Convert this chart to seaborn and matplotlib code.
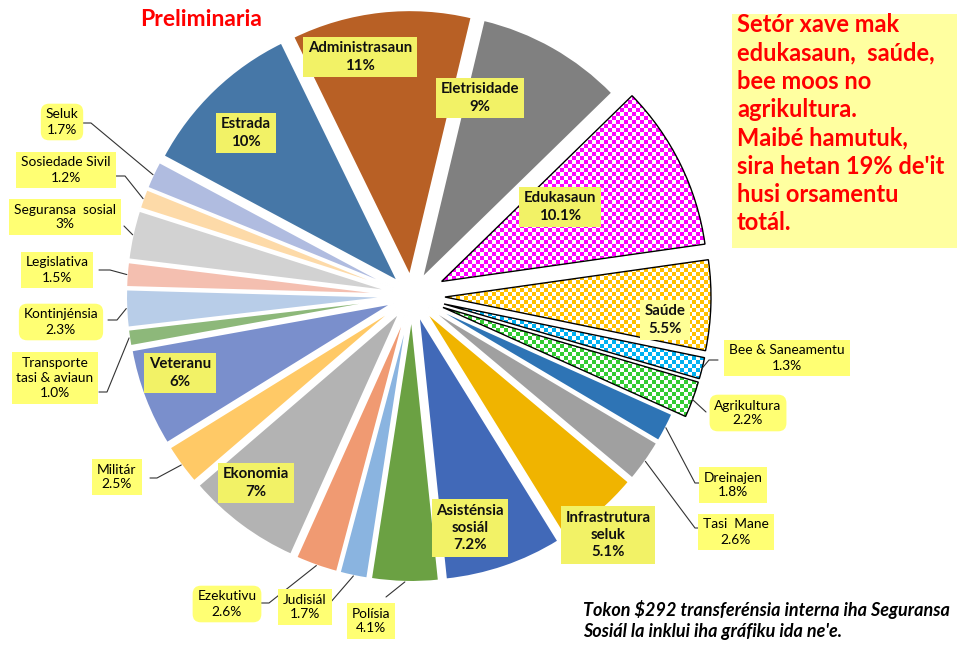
import numpy as np
import matplotlib
matplotlib.use("Agg")
import matplotlib.pyplot as plt
from matplotlib.colors import to_rgb
from matplotlib.patches import Wedge, Rectangle
import seaborn as sns

W, H = 970, 652

# ---- data -------------------------------------------------------------------
sectors = ["Administrasaun", "Eletrisidade", "Edukasaun", "Saúde", "Bee & Saneamentu",
           "Agrikultura", "Dreinajen", "Tasi  Mane", "Infrastrutura\nseluk",
           "Asisténsia\nsosiál", "Polísia", "Judisiál", "Ezekutivu", "Ekonomia",
           "Militár", "Veteranu", "Transporte\ntasi & aviaun", "Kontinjénsia",
           "Legislativa", "Seguransa  sosial", "Sosiedade Sivil", "Seluk", "Estrada"]
shares = [11, 9, 10.1, 5.5, 1.3, 2.2, 1.8, 2.6, 5.1, 7.2, 4.1, 1.7, 2.6, 7,
          2.5, 6, 1.0, 2.3, 1.5, 3, 1.2, 1.7, 10]
share_text = ["11%", "9%", "10.1%", "5.5%", "1.3%", "2.2%", "1.8%", "2.6%", "5.1%",
              "7.2%", "4.1%", "1.7%", "2.6%", "7%", "2.5%", "6%", "1.0%", "2.3%",
              "1.5%", "3%", "1.2%", "1.7%", "10%"]
key_sectors = ["Edukasaun", "Saúde", "Bee & Saneamentu", "Agrikultura"]

colors = ["#B86025", "#808080", "#FF00FF", "#FFC000", "#00B0F0", "#33CC33",
          "#2E74B5", "#A0A0A0", "#F0B400", "#4169B8", "#6BA143", "#8AB4E0",
          "#F09A72", "#B3B3B3", "#FFC966", "#7A8FCC", "#8DB87A", "#B8CDE8",
          "#F4BFB0", "#D2D2D2", "#FDDAA8", "#B0BCE0", "#4677A7"]

# ---- layout (pixel coords, y down) -------------------------------------------
CX, CY, R = 412, 296, 266
inside = {"Administrasaun": (360, 57), "Eletrisidade": (480, 98), "Edukasaun": (560, 207),
          "Saúde": (665, 320), "Infrastrutura\nseluk": (608, 535),
          "Asisténsia\nsosiál": (470, 528), "Ekonomia": (256, 483),
          "Veteranu": (180, 373), "Estrada": (246, 133)}
# name: box centre x, y, leader attach x, y, elbow x, rounded box
outside = {
    "Bee & Saneamentu": (787, 358, 718, 360, 709, False),
    "Agrikultura": (748, 413, 706, 412, None, True),
    "Dreinajen": (733, 485, 701, 483, 695, False),
    "Tasi  Mane": (736, 532, 701, 528, 695, False),
    "Polísia": (371, 621, 386, 597, None, False),
    "Judisiál": (305, 607, 330, 603, None, False),
    "Ezekutivu": (227, 604, 261, 603, 269, True),
    "Militár": (117, 477, 150, 478, 157, False),
    "Transporte\ntasi & aviaun": (55, 378, 99, 392, 107, False),
    "Kontinjénsia": (61, 322, 108, 320, 117, True),
    "Legislativa": (57, 270, 99, 270, 110, False),
    "Seguransa  sosial": (65, 217, 124, 226, None, False),
    "Sosiedade Sivil": (66, 170, 116, 176, 125, False),
    "Seluk": (62, 122, 83, 123, 91, True),
}
explode = [33 if s in key_sectors else 20 for s in sectors]

sns.set_theme(style="white")
plt.rcParams["font.family"] = ["Lato", "DejaVu Sans"]

fig = plt.figure(figsize=(W / 100, H / 100), dpi=100)
ax = fig.add_axes([0, 0, 1, 1])

wedges, _ = ax.pie(shares, colors=colors, startangle=116, counterclock=False,
                   radius=R, center=(CX, H - CY), explode=explode,
                   wedgeprops=dict(edgecolor="white", linewidth=1.5))

# checkerboard fill for the key sectors
yy, xx = np.mgrid[0:H, 0:W]
checks = ((xx // 4 + yy // 4) % 2) == 0
for w, name, col in zip(wedges, sectors, colors):
    if name not in key_sectors:
        continue
    rgb = np.ones((H, W, 3))
    rgb[checks] = to_rgb(col)
    im = ax.imshow(rgb, extent=(0, W, 0, H), origin="upper",
                   interpolation="nearest", zorder=2)
    im.set_clip_path(w)
    ax.add_patch(Wedge(w.center, w.r, w.theta1, w.theta2, fill=False,
                       ec="black", lw=1, zorder=3))

for w, name, txt in zip(wedges, sectors, share_text):
    label = f"{name}\n{txt}"
    if name in inside:
        x, y = inside[name]
        fc = "#FFFF96" if name == "Saúde" else "#F2F266"
        ax.text(x, H - y, label, ha="center", va="center", fontsize=10.8,
                fontweight="bold", color="#111111", linespacing=1.3, zorder=6,
                bbox=dict(boxstyle="square,pad=0.3", fc=fc, ec="none"))
    else:
        x, y, ax_, ay_, ex, rounded = outside[name]
        tm = np.deg2rad((w.theta1 + w.theta2) / 2)
        x0 = w.center[0] + w.r * np.cos(tm)
        y0 = w.center[1] + w.r * np.sin(tm)
        pts = [(x0, y0)]
        if ex is not None:
            pts.append((ex, H - ay_))
        pts.append((ax_, H - ay_))
        ax.plot(*zip(*pts), color="#333333", lw=0.8, zorder=4)
        style = "round,pad=0.35,rounding_size=0.6" if rounded else "square,pad=0.35"
        ax.text(x, H - y, label, ha="center", va="center", fontsize=9.9,
                color="black", linespacing=1.3, zorder=6,
                bbox=dict(boxstyle=style, fc="#FFFF73", ec="none"))

ax.text(201, H - 19, "Preliminaria", ha="center", va="center", fontsize=16.5,
        fontweight="bold", color="#FF0000")

ax.add_patch(Rectangle((732, H - 248), 225, 234, fc="#FFFFA0", ec="none", zorder=5))
ax.text(737, H - 13, "Setór xave mak\nedukasaun,  saúde,\nbee moos no\nagrikultura.\n"
        "Maibé hamutuk,\nsira hetan 19% de'it\nhusi orsamentu\ntotál.",
        ha="left", va="top", fontsize=17, fontweight="bold", color="#FF0000",
        linespacing=1.28, zorder=6)

ax.text(583, H - 620, "Tokon $292 transferénsia interna iha Seguransa\n"
        "Sosiál la inklui iha gráfiku ida ne'e.", ha="left", va="center",
        fontsize=13, fontweight="bold", fontstyle="italic", color="black",
        linespacing=1.3, parse_math=False)

ax.set_xlim(0, W)
ax.set_ylim(0, H)
ax.set_aspect("equal")
ax.axis("off")
fig.savefig("out.png", dpi=100)
